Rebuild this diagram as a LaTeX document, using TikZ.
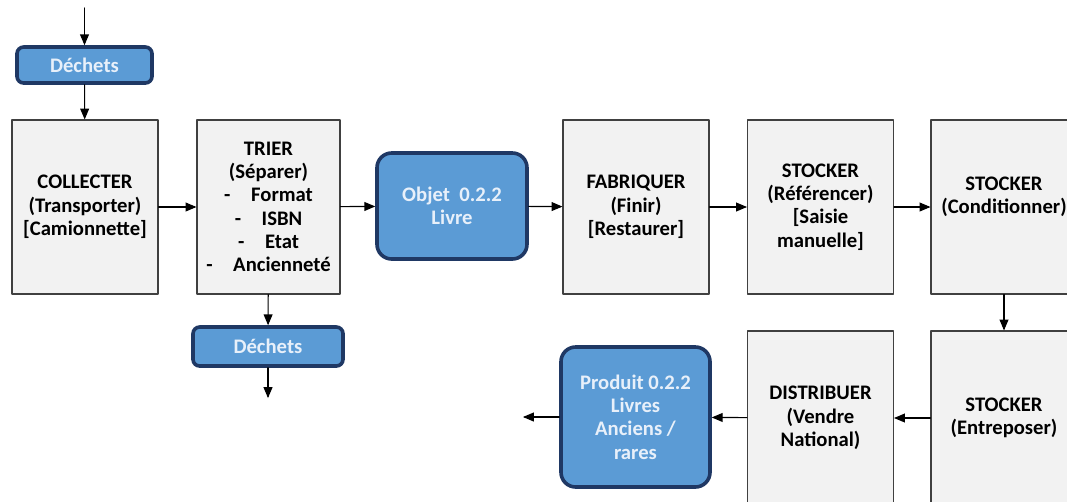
\documentclass[tikz,border=0pt]{standalone}
\usepackage{fontspec}
\setmainfont{Carlito}
\usetikzlibrary{arrows}
\definecolor{boxgray}{HTML}{F2F2F2}
\definecolor{edgegray}{HTML}{404040}
\definecolor{bleu}{HTML}{5B9BD5}
\definecolor{marine}{HTML}{1F3864}
\definecolor{pale}{HTML}{E8F0FA}

\begin{document}
\begin{tikzpicture}[x=0.75pt,y=-0.75pt,line cap=round,line join=round,>=triangle 45,
        etape/.style={draw=edgegray,line width=0.9pt,fill=boxgray,align=center,inner sep=0pt,
                minimum width=109.5pt,minimum height=130.5pt,font=\fontsize{15.5}{17.5}\selectfont\bfseries},
        objet/.style={draw=marine,line width=2.7pt,fill=bleu,text=pale,align=center,inner sep=0pt,
                rounded corners=11pt,font=\fontsize{15.5}{17.5}\selectfont\bfseries},
        rebut/.style={objet,rounded corners=5pt,minimum width=101.25pt,minimum height=27pt},
        fleche/.style={->,line width=0.85pt}]
        \clip (0,0) rectangle (1067,501);
        % ligne du haut
        \node[rebut] (dech1) at (84.5,65) {Déchets};
        \node[etape] (collect) at (85,207) {COLLECTER\\(Transporter)\\{[Camionnette]}};
        \node[etape,minimum width=107.25pt] (trier) at (268.5,207) {TRIER\\(Séparer)\\-\quad Format\\-\quad ISBN\\-\quad Etat\\-\quad Ancienneté};
        \node[objet,minimum width=112.5pt,minimum height=79.5pt] (livre) at (452,206) {Objet\ \ 0.2.2\\Livre};
        \node[etape] (fab) at (636,207) {FABRIQUER\\(Finir)\\{[Restaurer]}};
        \node[etape] (stockref) at (820.5,207) {STOCKER\\(Référencer)\\{[Saisie}\\manuelle]};
        \node[etape] (stockcond) at (1004,207) {STOCKER\\(Conditionner)\\\mbox{}};
        % ligne du bas
        \node[etape] (stockent) at (1004,418) {STOCKER\\(Entreposer)};
        \node[etape] (distrib) at (820.5,418) {DISTRIBUER\\(Vendre\\National)};
        \node[objet,minimum width=111.75pt,minimum height=105pt] (produit) at (635.5,417) {Produit 0.2.2\\Livres\\Anciens /\\rares};
        \node[rebut,minimum width=112.5pt,minimum height=29.25pt] (dech2) at (268,346.5) {Déchets};
        \coordinate (entree) at (84.5,8);
        \coordinate (sortie) at (523,417);
        \coordinate (perte) at (268,398);
        % fleches
        \draw[fleche] (entree) -- (dech1);
        \draw[fleche] (dech1) -- (collect);
        \draw[fleche] (collect) -- (trier);
        \draw[fleche] (trier) -- (livre);
        \draw[fleche] (livre) -- (fab);
        \draw[fleche] (fab) -- (stockref);
        \draw[fleche] (stockref) -- (stockcond);
        \draw[fleche] (stockcond) -- (stockent);
        \draw[fleche] (stockent) -- (distrib);
        \draw[fleche] (distrib) -- (produit);
        \draw[fleche] (produit) -- (sortie);
        \draw[fleche] (trier) -- (dech2);
        \draw[fleche] (dech2) -- (perte);
\end{tikzpicture}
\end{document}
